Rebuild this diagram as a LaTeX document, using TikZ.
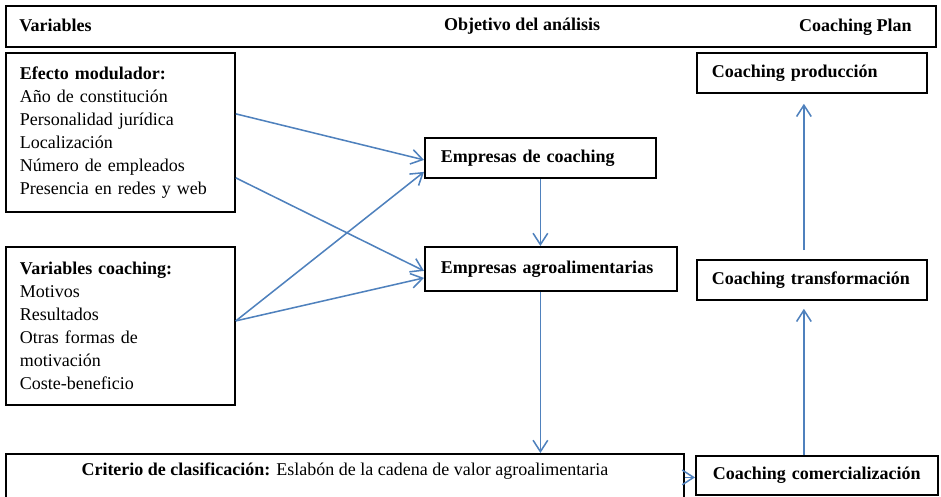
\documentclass[tikz,border=0pt]{standalone}
\usepackage{fontspec}
\setmainfont{Liberation Serif}
\usetikzlibrary{arrows.meta}

\definecolor{flowblue}{RGB}{79,129,189}

\tikzset{
  txt/.style={font=\fontsize{13.5}{17.25}\selectfont},
  box/.style={txt, draw, line width=1.35pt, inner ysep=0pt},
  headtxt/.style={font=\fontsize{13.5}{17.25}\selectfont\bfseries, inner sep=0pt},
  listbox/.style={box, anchor=north west, align=left, inner xsep=10.5pt, text width=150.75pt},
  goalbox/.style={box, anchor=north west, align=left, inner xsep=12pt, font=\fontsize{13.5}{17.25}\selectfont\bfseries},
  planbox/.style={box, anchor=north west, align=left, inner xsep=11.25pt, text width=150pt,
    minimum height=30pt, font=\fontsize{13.5}{17.25}\selectfont\bfseries},
  flow/.style={draw=flowblue, line width=1.15pt,
    -{Straight Barb[length=8.5pt, width=11pt, line width=1.15pt]}},
}

\begin{document}
\begin{tikzpicture}[x=0.75pt, y=-0.75pt]
\useasboundingbox (0,0) rectangle (941,496);

\def\xl{5}; % left column
\def\xm{424}; % middle column
\def\xr{696}; % right column

% header bar
\node[box, anchor=north west, minimum width=697.5pt, minimum height=30.75pt] (header) at (\xl,5) {};
\node[headtxt, anchor=base west] (hvar) at ([xshift=10.5pt, yshift=-4.1pt]header.west) {Variables};
\node[headtxt, anchor=base] (hgoal) at (522,31) {Objetivo del análisis};
\node[headtxt, anchor=base east] (hplan) at ([xshift=-18.75pt, yshift=-4.1pt]header.east) {Coaching Plan};

% variables
\node[listbox, minimum height=119.25pt] (efecto) at (\xl,52) {{\bfseries Efecto modulador:}\\
  Año de constitución\\ Personalidad jurídica\\ Localización\\ Número de empleados\\ Presencia en redes y web};
\node[listbox, minimum height=118.5pt] (varcoach) at (\xl,246) {{\bfseries Variables coaching:}\\
  Motivos\\ Resultados\\ Otras formas de\\ motivación\\ Coste-beneficio};

% objetivo
\node[goalbox, text width=149.25pt, minimum height=30pt] (coachemp) at (\xm,137) {Empresas de coaching};
\node[goalbox, text width=165pt, minimum height=33pt] (agroemp) at (\xm,246) {Empresas agroalimentarias};

\node[box, anchor=north west, align=center, inner sep=0pt, minimum width=508.5pt, minimum height=35.25pt,
  text height=9.5pt, text depth=11.75pt] (criterio) at (\xl,453)
  {{\bfseries Criterio de clasificación:} Eslabón de la cadena de valor agroalimentaria};

% coaching plan
\node[planbox] (prod) at (\xr,52) {Coaching producción};
\node[planbox] (transf) at (\xr,259) {Coaching transformación};
\node[planbox, inner xsep=12.75pt, text width=156pt, minimum height=29.25pt] (comerc) at (695,455) {Coaching comercialización};

% arrows
\draw[flow] ([yshift=13.9pt]efecto.east) -- ([yshift=-1.5pt]coachemp.west);
\draw[flow] ([yshift=-34.1pt]efecto.east) -- ([yshift=-1.5pt]agroemp.west);
\draw[flow] ([yshift=3.75pt]varcoach.east) -- ([yshift=-10.5pt]coachemp.west);
\draw[flow] ([yshift=3.75pt]varcoach.east) -- ([yshift=-6.75pt]agroemp.west);

\draw[flow] (coachemp.south) -- (coachemp.south |- agroemp.north);
\draw[flow] (coachemp.south |- agroemp.south) -- (coachemp.south |- criterio.north);
\draw[flow] (criterio.east) -- (criterio.east -| comerc.west);

\coordinate (rcol) at ([xshift=-6pt]transf.south);
\draw[flow, shorten >=6pt] (rcol |- comerc.north) -- (rcol);
\draw[flow, shorten <=6.75pt, shorten >=7.5pt] (rcol |- transf.north) -- (rcol |- prod.south);

\end{tikzpicture}
\end{document}
